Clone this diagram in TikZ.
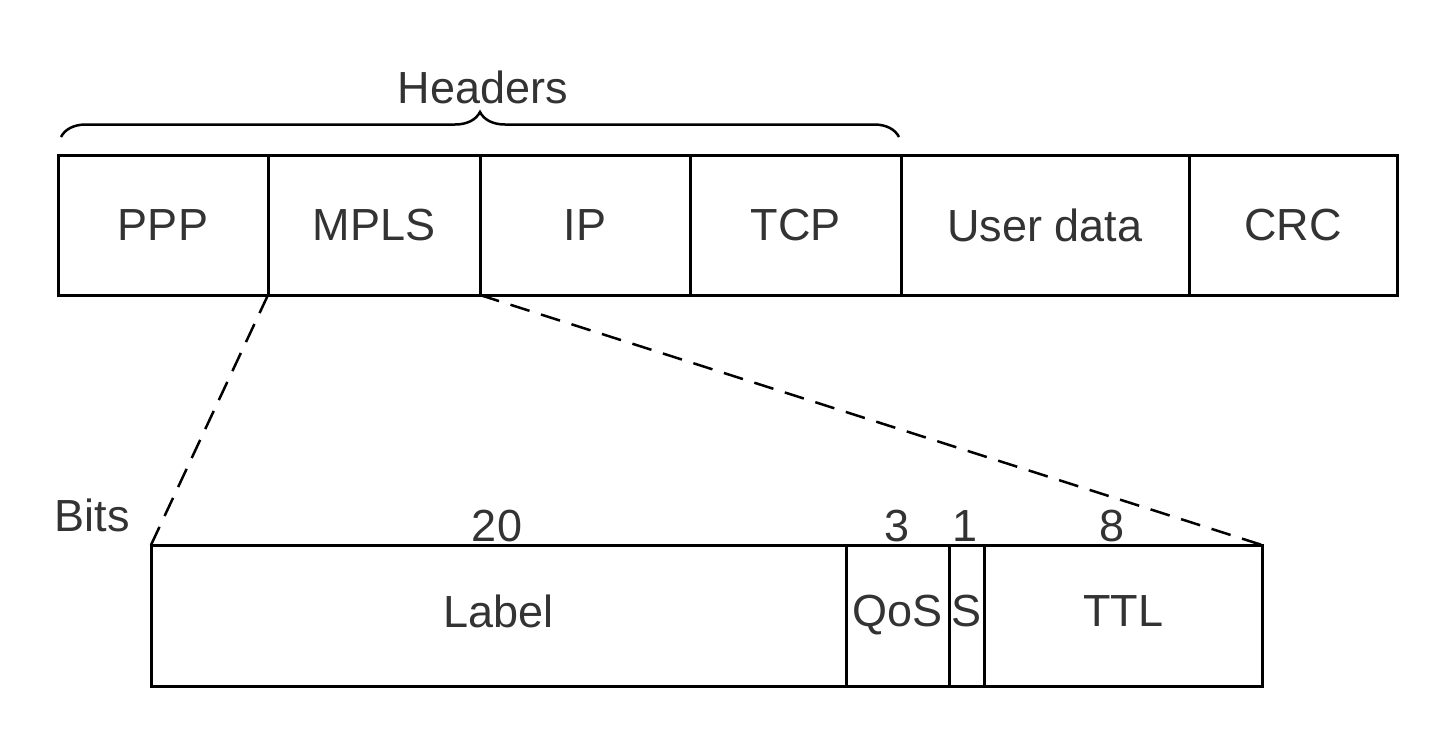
\documentclass[tikz,border=0pt]{standalone}
\usepackage{fontspec}
\setmainfont{Liberation Sans}
\usetikzlibrary{decorations.pathreplacing}
\definecolor{txt}{HTML}{333333}
\begin{document}
\begin{tikzpicture}[x=1pt,y=-1pt,
  cell/.style={draw=black, line width=3pt, inner sep=0pt, outer sep=0pt, text=txt,
    font=\fontsize{45}{54}\selectfont, minimum height=140pt},
  bcell/.style={cell, minimum height=141pt, text depth=9pt},
  lbl/.style={text=txt, font=\fontsize{45}{54}\selectfont, inner sep=0pt},
  brc/.style={draw=black, line width=2.5pt, decorate, decoration={brace, amplitude=25pt}},
  zoomline/.style={draw=black, line width=2.5pt, dash pattern=on 20pt off 12pt}]
\useasboundingbox (0,0) rectangle (1450,750);
% top packet
\node[cell, minimum width=210pt] (ppp)  at (163,225)   {PPP};
\node[cell, minimum width=212pt] (mpls) at (374,225)   {MPLS};
\node[cell, minimum width=210pt] (ip)   at (585,225)   {IP};
\node[cell, minimum width=211pt] (tcp)  at (795.5,225) {TCP};
\node[cell, minimum width=288pt] (user) at (1045,225)  {User data};
\node[cell, minimum width=208pt] (crc)  at (1293,225)  {CRC};
% brace
\coordinate (bl) at (61,137);
\coordinate (br) at (899,137);
\draw[brc] (bl) -- (br);
\node[lbl] (hdr) at (483,87) {Headers};
% bottom MPLS header
\node[bcell, minimum width=695pt] (label) at (498.5,615.5) {Label};
\node[bcell, minimum width=103pt] (qos)   at (897.5,615.5) {QoS};
\node[bcell, minimum width=35pt]  (s)     at (966.5,615.5) {S};
\node[bcell, minimum width=278pt] (ttl)   at (1123,615.5)  {TTL};
% bit counts
\node[lbl] (bits) at (92,515)  {Bits};
\node[lbl] (n20)  at (497,526) {20};
\node[lbl] (n3)   at (897,526) {3};
\node[lbl] (n1)   at (965,526) {1};
\node[lbl] (n8)   at (1112,526) {8};
% zoom lines
\draw[zoomline] (mpls.south west) -- (label.north west);
\draw[zoomline] (mpls.south east) -- (ttl.north east);
\end{tikzpicture}
\end{document}
